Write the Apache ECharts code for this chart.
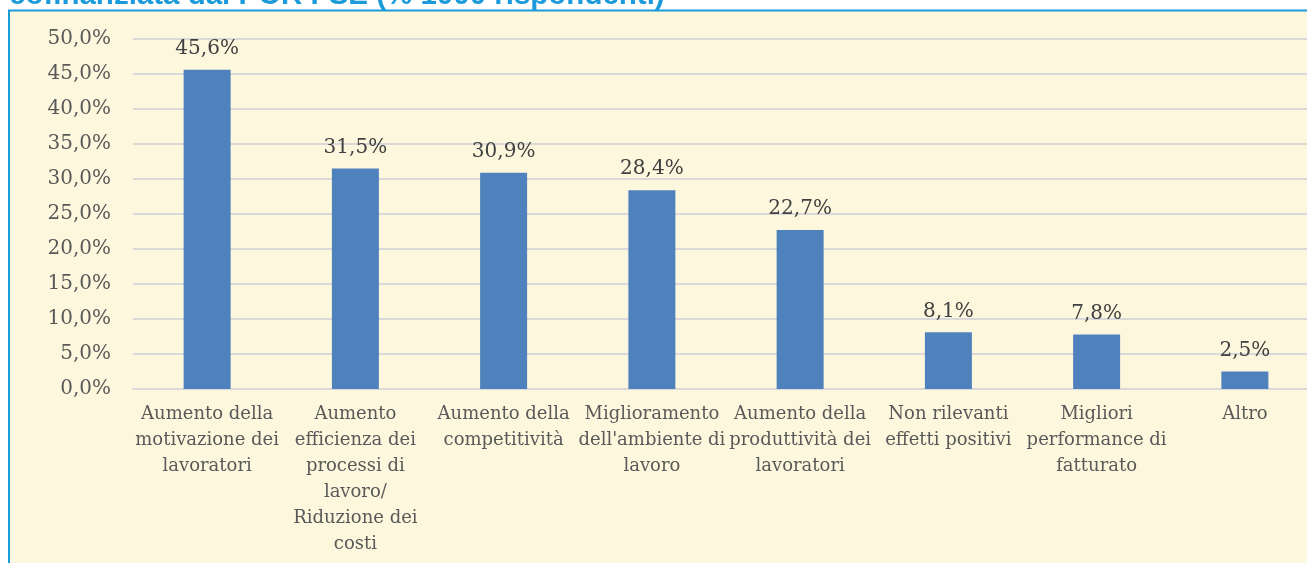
<!DOCTYPE html>
<html><head><meta charset="utf-8">
<script src="https://cdn.jsdelivr.net/npm/echarts@6/dist/echarts.min.js"></script>
<style>
html,body{margin:0;padding:0;background:#fff;overflow:hidden;}
#c{position:absolute;left:0;top:0;width:1340px;height:563px;}
</style></head><body>
<div id="c"></div>
<script>
const titleText = "cofinanziata dal POR FSE (% 1000 rispondenti)";
const categories = [
  "Aumento della\nmotivazione dei\nlavoratori",
  "Aumento\nefficienza dei\nprocessi di\nlavoro/\nRiduzione dei\ncosti",
  "Aumento della\ncompetitività",
  "Miglioramento\ndell'ambiente di\nlavoro",
  "Aumento della\nproduttività dei\nlavoratori",
  "Non rilevanti\neffetti positivi",
  "Migliori\nperformance di\nfatturato",
  "Altro"
];
const values = [45.6, 31.5, 30.9, 28.4, 22.7, 8.1, 7.8, 2.5];

const fmt = v => v.toFixed(1).replace('.', ',') + '%';
const serif = "'DejaVu Serif', serif";
const chart = echarts.init(document.getElementById('c'), null, {renderer:'canvas'});
chart.setOption({
  animation:false,
  backgroundColor:'#fff',
  graphic:[
    {type:'rect', shape:{x:9, y:10.5, width:1400, height:600}, style:{fill:'#FDF8DD', stroke:'#1C9BDB', lineWidth:2}, z:-10},
    {type:'text', x:9, y:11, style:{text:titleText, font:"bold 29.5px 'Liberation Sans', Arial, sans-serif", fill:'#1C9BDB', verticalAlign:'bottom'}, z:5}
  ],
  grid:{left:133, right:21, top:39, bottom:174, containLabel:false},
  xAxis:{
    type:'category', data:categories,
    axisLine:{show:true, lineStyle:{color:'#D9D9D9', width:2}},
    axisTick:{show:false},
    axisLabel:{interval:0, color:'#595959', fontFamily:serif, fontSize:18, lineHeight:26, margin:12}
  },
  yAxis:{
    type:'value', min:0, max:50, interval:5,
    axisLine:{show:false}, axisTick:{show:false},
    splitLine:{lineStyle:{color:'#D9D9D9', width:2}},
    axisLabel:{color:'#595959', fontFamily:serif, fontSize:20, margin:22, formatter:v=>fmt(v)}
  },
  series:[{
    type:'bar', data:values, barWidth:47,
    itemStyle:{color:'#4F81BD'},
    label:{show:true, position:'top', distance:11, color:'#404040', fontFamily:serif, fontSize:20, formatter:p=>fmt(p.value)}
  }]
});
</script></body></html>
